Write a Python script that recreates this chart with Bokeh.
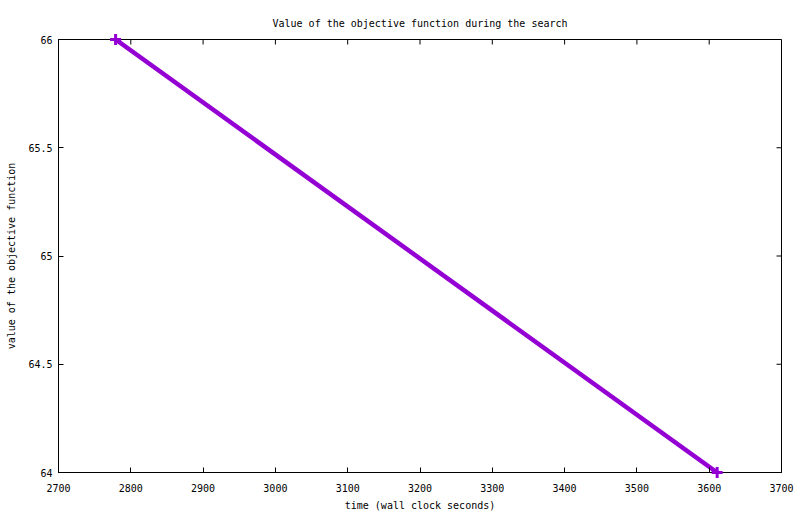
import math
from bokeh.plotting import figure
from bokeh.models import Range1d, FixedTicker
from bokeh.embed import file_html
from bokeh.resources import INLINE

# data
time_s = [2779, 3611]
objective = [66, 64]
x_ticks = [2700, 2800, 2900, 3000, 3100, 3200, 3300, 3400, 3500, 3600, 3700]
y_ticks = [64, 64.5, 65, 65.5, 66]
y_tick_labels = ["64", "64.5", "65", "65.5", "66"]
title_text = "Value of the objective function during the search"
x_label = "time (wall clock seconds)"
y_label = "value of the objective function"

FONT = "DejaVu Sans Mono"
COLOR = "#9400D3"
X0, X1 = 2700, 3700
Y0, Y1 = 64, 66

p = figure(frame_width=723, frame_height=433,
           x_range=Range1d(X0, X1), y_range=Range1d(Y0, Y1),
           output_backend="svg", toolbar_location=None,
           min_border_left=58, min_border_top=39, min_border_right=15, min_border_bottom=40,
           title=title_text)
p.background_fill_color = "white"
p.border_fill_color = "white"
p.outline_line_color = "black"
p.outline_line_width = 1
p.xgrid.visible = False
p.ygrid.visible = False

p.title.align = "center"
p.title.text_font = FONT
p.title.text_font_size = "10px"
p.title.text_font_style = "normal"
p.title.text_color = "black"
p.title.standoff = 21

def style_axis(ax):
    ax.axis_line_color = "black"
    ax.major_tick_in = 5
    ax.major_tick_out = 0
    ax.minor_tick_line_color = None
    ax.major_tick_line_color = "black"
    ax.major_label_text_font = FONT
    ax.major_label_text_font_size = "10px"
    ax.major_label_text_color = "black"
    ax.axis_label_text_font = FONT
    ax.axis_label_text_font_size = "10px"
    ax.axis_label_text_font_style = "normal"
    ax.axis_label_text_color = "black"

xa = p.xaxis[0]
ya = p.yaxis[0]
style_axis(xa)
style_axis(ya)
xa.ticker = FixedTicker(ticks=x_ticks)
ya.ticker = FixedTicker(ticks=y_ticks)
ya.major_label_overrides = {t: l for t, l in zip(y_ticks, y_tick_labels)}
xa.axis_label = x_label
ya.axis_label = y_label
xa.major_label_standoff = 11
xa.axis_label_standoff = 5
ya.major_label_standoff = 6
ya.axis_label_standoff = 8

# mirrored inward ticks on top and right edges
p.ray(x=x_ticks, y=[Y1] * len(x_ticks), length=5, length_units="screen",
      angle=-math.pi / 2, line_color="black", line_width=1)
p.ray(x=[X1] * len(y_ticks), y=y_ticks, length=5, length_units="screen",
      angle=math.pi, line_color="black", line_width=1)

p.line(time_s, objective, line_color=COLOR, line_width=4.5)
p.scatter(time_s, objective, marker="cross", size=11, line_color=COLOR,
          line_width=3, level="overlay")

open("out.html", "w").write(file_html(p, INLINE))
